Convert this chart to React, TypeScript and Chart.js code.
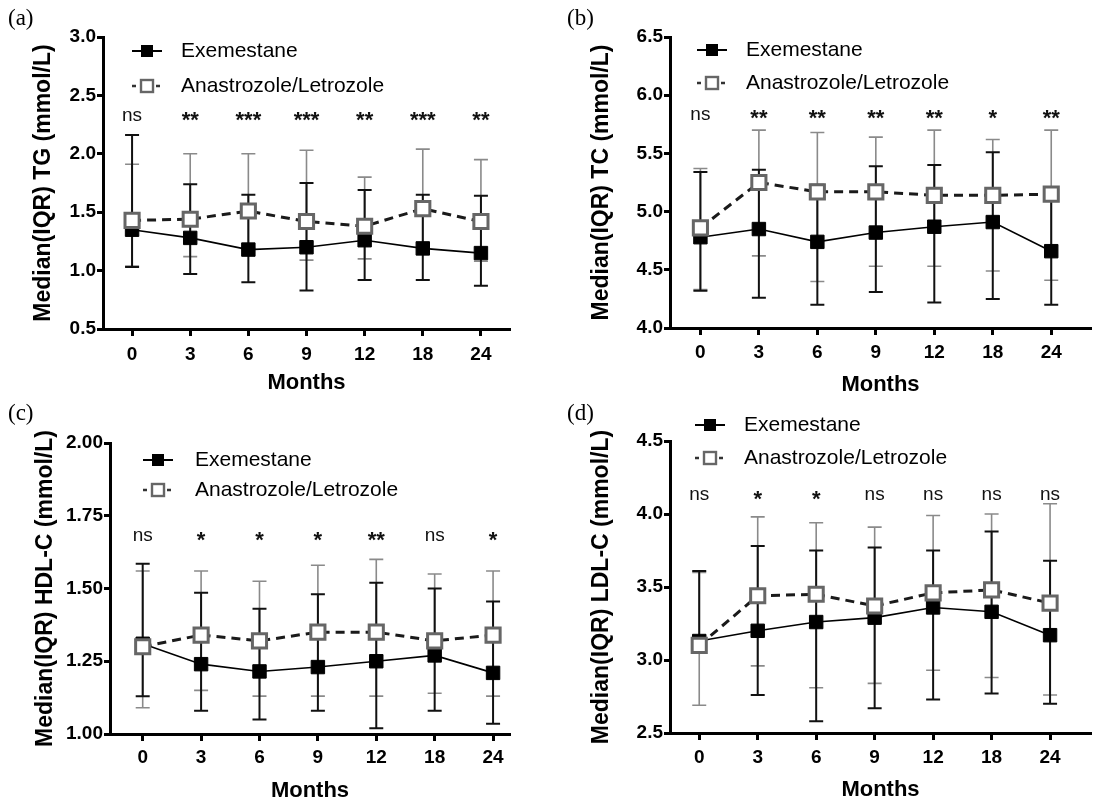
import React, { useEffect, useRef } from "react";
import { Chart, registerables } from "chart.js";
Chart.register(...registerables);

const MONTHS = ["0", "3", "6", "9", "12", "18", "24"];
const LABEL_EXE = "Exemestane";
const LABEL_ANA = "Anastrozole/Letrozole";

// (a) TG
const TG_EXE = [1.35, 1.28, 1.18, 1.2, 1.26, 1.19, 1.15];
const TG_EXE_LO = [1.03, 0.97, 0.9, 0.83, 0.92, 0.92, 0.87];
const TG_EXE_HI = [2.16, 1.74, 1.65, 1.75, 1.69, 1.65, 1.64];
const TG_ANA = [1.43, 1.44, 1.51, 1.42, 1.38, 1.53, 1.42];
const TG_ANA_LO = [1.04, 1.12, 1.19, 1.09, 1.1, 1.2, 1.08];
const TG_ANA_HI = [1.91, 2.0, 2.0, 2.03, 1.8, 2.04, 1.95];
const TG_SIG = ["ns", "**", "***", "***", "**", "***", "**"];

// (b) TC
const TC_EXE = [4.78, 4.85, 4.74, 4.82, 4.87, 4.91, 4.66];
const TC_EXE_LO = [4.32, 4.26, 4.2, 4.31, 4.22, 4.25, 4.2];
const TC_EXE_HI = [5.34, 5.36, 5.23, 5.39, 5.4, 5.51, 5.15];
const TC_ANA = [4.86, 5.25, 5.17, 5.17, 5.14, 5.14, 5.15];
const TC_ANA_LO = [4.33, 4.62, 4.4, 4.53, 4.53, 4.49, 4.41];
const TC_ANA_HI = [5.37, 5.7, 5.68, 5.64, 5.7, 5.62, 5.7];
const TC_SIG = ["ns", "**", "**", "**", "**", "*", "**"];

// (c) HDL-C
const HDL_EXE = [1.31, 1.24, 1.215, 1.23, 1.25, 1.27, 1.21];
const HDL_EXE_LO = [1.13, 1.08, 1.05, 1.08, 1.02, 1.08, 1.035];
const HDL_EXE_HI = [1.585, 1.485, 1.43, 1.48, 1.52, 1.5, 1.455];
const HDL_ANA = [1.3, 1.34, 1.32, 1.35, 1.35, 1.32, 1.34];
const HDL_ANA_LO = [1.09, 1.15, 1.13, 1.13, 1.13, 1.14, 1.13];
const HDL_ANA_HI = [1.56, 1.56, 1.525, 1.58, 1.6, 1.55, 1.56];
const HDL_SIG = ["ns", "*", "*", "*", "**", "ns", "*"];

// (d) LDL-C
const LDL_EXE = [3.13, 3.2, 3.26, 3.29, 3.36, 3.33, 3.17];
const LDL_EXE_LO = [3.1, 2.76, 2.58, 2.67, 2.73, 2.77, 2.7];
const LDL_EXE_HI = [3.61, 3.78, 3.75, 3.77, 3.75, 3.88, 3.68];
const LDL_ANA = [3.1, 3.44, 3.45, 3.37, 3.46, 3.48, 3.39];
const LDL_ANA_LO = [2.69, 2.96, 2.81, 2.84, 2.93, 2.88, 2.76];
const LDL_ANA_HI = [3.6, 3.98, 3.94, 3.91, 3.99, 4.0, 4.07];
const LDL_SIG = ["ns", "*", "*", "ns", "ns", "ns", "ns"];

const FONT = "'Liberation Sans', Arial, Helvetica, sans-serif";
const SERIF = "'Liberation Serif', 'Times New Roman', serif";

type Panel = {
  letter: string;
  yTitle: string;
  yMin: number;
  yMax: number;
  yStep: number;
  yDec: number;
  sigLevel: number;
  exe: number[];
  exeLo: number[];
  exeHi: number[];
  ana: number[];
  anaLo: number[];
  anaHi: number[];
  sig: string[];
  box: { left: number; top: number; width: number; height: number };
  area: { l: number; t: number; r: number; b: number };
  xMin: number;
  xMax: number;
  yTitlePad: number;
  xTickPad: number;
  xTitlePad: number;
  legend: { x0: number; x1: number; tx: number; y1: number; y2: number };
  letterPos: { x: number; y: number };
};

const PANELS: Panel[] = [
  {
    letter: "(a)", yTitle: "Median(IQR) TG (mmol/L)", yMin: 0.5, yMax: 3.0, yStep: 0.5, yDec: 1, sigLevel: 2.32,
    exe: TG_EXE, exeLo: TG_EXE_LO, exeHi: TG_EXE_HI, ana: TG_ANA, anaLo: TG_ANA_LO, anaHi: TG_ANA_HI, sig: TG_SIG,
    box: { left: 0, top: 0, width: 552, height: 400 }, area: { l: 103, t: 37, r: 510, b: 329 },
    xMin: -0.5, xMax: 6.5, yTitlePad: 30, xTickPad: 7, xTitlePad: 6,
    legend: { x0: 132, x1: 162, tx: 181, y1: 51, y2: 86 }, letterPos: { x: 8, y: 19 },
  },
  {
    letter: "(b)", yTitle: "Median(IQR) TC (mmol/L)", yMin: 4.0, yMax: 6.5, yStep: 0.5, yDec: 1, sigLevel: 5.83,
    exe: TC_EXE, exeLo: TC_EXE_LO, exeHi: TC_EXE_HI, ana: TC_ANA, anaLo: TC_ANA_LO, anaHi: TC_ANA_HI, sig: TC_SIG,
    box: { left: 552, top: 0, width: 552, height: 400 }, area: { l: 670, t: 37, r: 1102, b: 328 },
    xMin: -0.52, xMax: 6.68, yTitlePad: 36, xTickPad: 6, xTitlePad: 4,
    legend: { x0: 145, x1: 175, tx: 194, y1: 50, y2: 83 }, letterPos: { x: 15, y: 19 },
  },
  {
    letter: "(c)", yTitle: "Median(IQR) HDL-C (mmol/L)", yMin: 1.0, yMax: 2.0, yStep: 0.25, yDec: 2, sigLevel: 1.68,
    exe: HDL_EXE, exeLo: HDL_EXE_LO, exeHi: HDL_EXE_HI, ana: HDL_ANA, anaLo: HDL_ANA_LO, anaHi: HDL_ANA_HI, sig: HDL_SIG,
    box: { left: 0, top: 400, width: 552, height: 402 }, area: { l: 110, t: 443, r: 510, b: 734 },
    xMin: -0.56, xMax: 6.29, yTitlePad: 32, xTickPad: 5, xTitlePad: 0,
    legend: { x0: 143, x1: 173, tx: 195, y1: 60, y2: 90 }, letterPos: { x: 8, y: 14 },
  },
  {
    letter: "(d)", yTitle: "Median(IQR) LDL-C (mmol/L)", yMin: 2.5, yMax: 4.5, yStep: 0.5, yDec: 1, sigLevel: 4.13,
    exe: LDL_EXE, exeLo: LDL_EXE_LO, exeHi: LDL_EXE_HI, ana: LDL_ANA, anaLo: LDL_ANA_LO, anaHi: LDL_ANA_HI, sig: LDL_SIG,
    box: { left: 552, top: 400, width: 552, height: 402 }, area: { l: 670, t: 441, r: 1102, b: 733 },
    xMin: -0.5, xMax: 6.7, yTitlePad: 36, xTickPad: 6, xTitlePad: 1,
    legend: { x0: 143, x1: 173, tx: 192, y1: 25, y2: 58 }, letterPos: { x: 15, y: 14 },
  },
];

const CAP = 7;

function PanelChart({ p }: { p: Panel }) {
  const ref = useRef<HTMLCanvasElement>(null);
  useEffect(() => {
    const canvas = ref.current;
    if (!canvas) return;
    const aL = p.area.l - p.box.left;
    const aT = p.area.t - p.box.top;
    const aR = p.area.r - p.box.left;
    const aB = p.area.b - p.box.top;

    const decor = {
      id: "decor",
      beforeDatasetsDraw(chart: any) {
        const ctx = chart.ctx;
        const xs = chart.scales.x;
        const ys = chart.scales.y;
        const drawBars = (lo: number[], hi: number[], color: string, w: number) => {
          ctx.save();
          ctx.strokeStyle = color;
          ctx.lineWidth = w;
          lo.forEach((l, i) => {
            const x = xs.getPixelForValue(i);
            const y1 = ys.getPixelForValue(l);
            const y2 = ys.getPixelForValue(hi[i]);
            ctx.beginPath();
            ctx.moveTo(x, y1);
            ctx.lineTo(x, y2);
            ctx.moveTo(x - CAP, y1);
            ctx.lineTo(x + CAP, y1);
            ctx.moveTo(x - CAP, y2);
            ctx.lineTo(x + CAP, y2);
            ctx.stroke();
          });
          ctx.restore();
        };
        drawBars(p.anaLo, p.anaHi, "#8a8a8a", 1.6);
        drawBars(p.exeLo, p.exeHi, "#111111", 2);
      },
      afterDraw(chart: any) {
        const ctx = chart.ctx;
        const xs = chart.scales.x;
        const ys = chart.scales.y;
        ctx.save();
        // significance labels
        p.sig.forEach((s, i) => {
          const x = xs.getPixelForValue(i);
          const y = ys.getPixelForValue(p.sigLevel);
          ctx.font = s === "ns" ? `19px ${FONT}` : `bold 22px ${FONT}`;
          ctx.fillStyle = "#111";
          ctx.textAlign = "center";
          ctx.textBaseline = "alphabetic";
          const m = ctx.measureText(s);
          ctx.fillText(s, x, y + (m.actualBoundingBoxAscent - m.actualBoundingBoxDescent) / 2);
        });
        // legend
        const L = p.legend;
        const xm = (L.x0 + L.x1) / 2;
        const side = 12;
        ctx.strokeStyle = "#000";
        ctx.lineWidth = 2;
        ctx.setLineDash([]);
        ctx.beginPath();
        ctx.moveTo(L.x0, L.y1);
        ctx.lineTo(L.x1, L.y1);
        ctx.stroke();
        ctx.fillStyle = "#000";
        ctx.fillRect(xm - side / 2, L.y1 - side / 2, side, side);

        ctx.strokeStyle = "#333";
        ctx.lineWidth = 2.5;
        ctx.setLineDash([4, 4]);
        ctx.beginPath();
        ctx.moveTo(L.x0, L.y2);
        ctx.lineTo(L.x1, L.y2);
        ctx.stroke();
        ctx.setLineDash([]);
        ctx.fillStyle = "#fff";
        ctx.fillRect(xm - side / 2, L.y2 - side / 2, side, side);
        ctx.strokeStyle = "#666";
        ctx.lineWidth = 2.4;
        ctx.strokeRect(xm - side / 2, L.y2 - side / 2, side, side);

        ctx.fillStyle = "#000";
        ctx.font = `21px ${FONT}`;
        ctx.textAlign = "left";
        ctx.textBaseline = "middle";
        ctx.fillText(LABEL_EXE, L.tx, L.y1);
        ctx.fillText(LABEL_ANA, L.tx, L.y2);

        // panel letter
        ctx.font = `23px ${SERIF}`;
        ctx.fillText(p.letter, p.letterPos.x, p.letterPos.y);
        ctx.restore();
      },
    };

    const chart = new Chart(canvas, {
      type: "line",
      data: {
        datasets: [
          {
            label: LABEL_EXE,
            data: p.exe.map((v, i) => ({ x: i, y: v })),
            borderColor: "#000",
            borderWidth: 1.6,
            pointStyle: "rect",
            pointRadius: 9.5,
            pointBackgroundColor: "#000",
            pointBorderColor: "#000",
            pointBorderWidth: 1,
            order: 1,
            clip: false,
          },
          {
            label: LABEL_ANA,
            data: p.ana.map((v, i) => ({ x: i, y: v })),
            borderColor: "#1a1a1a",
            borderWidth: 3,
            borderDash: [9, 6],
            pointStyle: "rect",
            pointRadius: 10,
            pointBackgroundColor: "#fff",
            pointBorderColor: "#666",
            pointBorderWidth: 3,
            order: 0,
            clip: false,
          },
        ],
      },
      options: {
        responsive: false,
        animation: false,
        devicePixelRatio: 1,
        events: [],
        layout: { padding: { left: 0, top: aT, right: p.box.width - aR, bottom: 0 } },
        elements: { line: { tension: 0 } },
        plugins: { legend: { display: false }, tooltip: { enabled: false }, title: { display: false } },
        scales: {
          x: {
            type: "linear",
            min: p.xMin,
            max: p.xMax,
            afterBuildTicks: (ax: any) => {
              ax.ticks = MONTHS.map((_, i) => ({ value: i }));
            },
            afterFit: (s: any) => {
              s.height = p.box.height - aB;
            },
            ticks: {
              callback: (v: any) => MONTHS[Math.round(Number(v))] ?? "",
              font: { family: FONT, size: 19, weight: "bold" },
              color: "#000",
              padding: p.xTickPad,
              autoSkip: false,
              maxRotation: 0,
            },
            grid: { drawOnChartArea: false, drawTicks: true, tickLength: 7, tickWidth: 3, tickColor: "#000" },
            border: { display: true, color: "#000", width: 3 },
            title: {
              display: true,
              text: "Months",
              color: "#000",
              font: { family: FONT, size: 22, weight: "bold", lineHeight: 1 },
              padding: { top: 0, bottom: p.xTitlePad },
            },
          },
          y: {
            type: "linear",
            min: p.yMin,
            max: p.yMax,
            afterFit: (s: any) => {
              s.width = aL;
            },
            ticks: {
              stepSize: p.yStep,
              callback: (v: any) => Number(v).toFixed(p.yDec),
              font: { family: FONT, size: 19, weight: "bold" },
              color: "#000",
              padding: 1,
            },
            grid: { drawOnChartArea: false, drawTicks: true, tickLength: 6, tickWidth: 3, tickColor: "#000" },
            border: { display: true, color: "#000", width: 3 },
            title: {
              display: true,
              text: p.yTitle,
              color: "#000",
              font: { family: FONT, size: 23, weight: "bold", lineHeight: 1.2 },
              padding: { top: p.yTitlePad, bottom: 0 },
            },
          },
        },
      } as any,
      plugins: [decor],
    });
    return () => chart.destroy();
  }, [p]);
  return (
    <canvas
      ref={ref}
      width={p.box.width}
      height={p.box.height}
      style={{ position: "absolute", left: p.box.left, top: p.box.top, width: p.box.width, height: p.box.height }}
    />
  );
}

export default function App() {
  return (
    <div style={{ position: "fixed", left: 0, top: 0, width: 1104, height: 802, overflow: "hidden", background: "#fff" }}>
      {PANELS.map((p) => (
        <PanelChart key={p.letter} p={p} />
      ))}
    </div>
  );
}
